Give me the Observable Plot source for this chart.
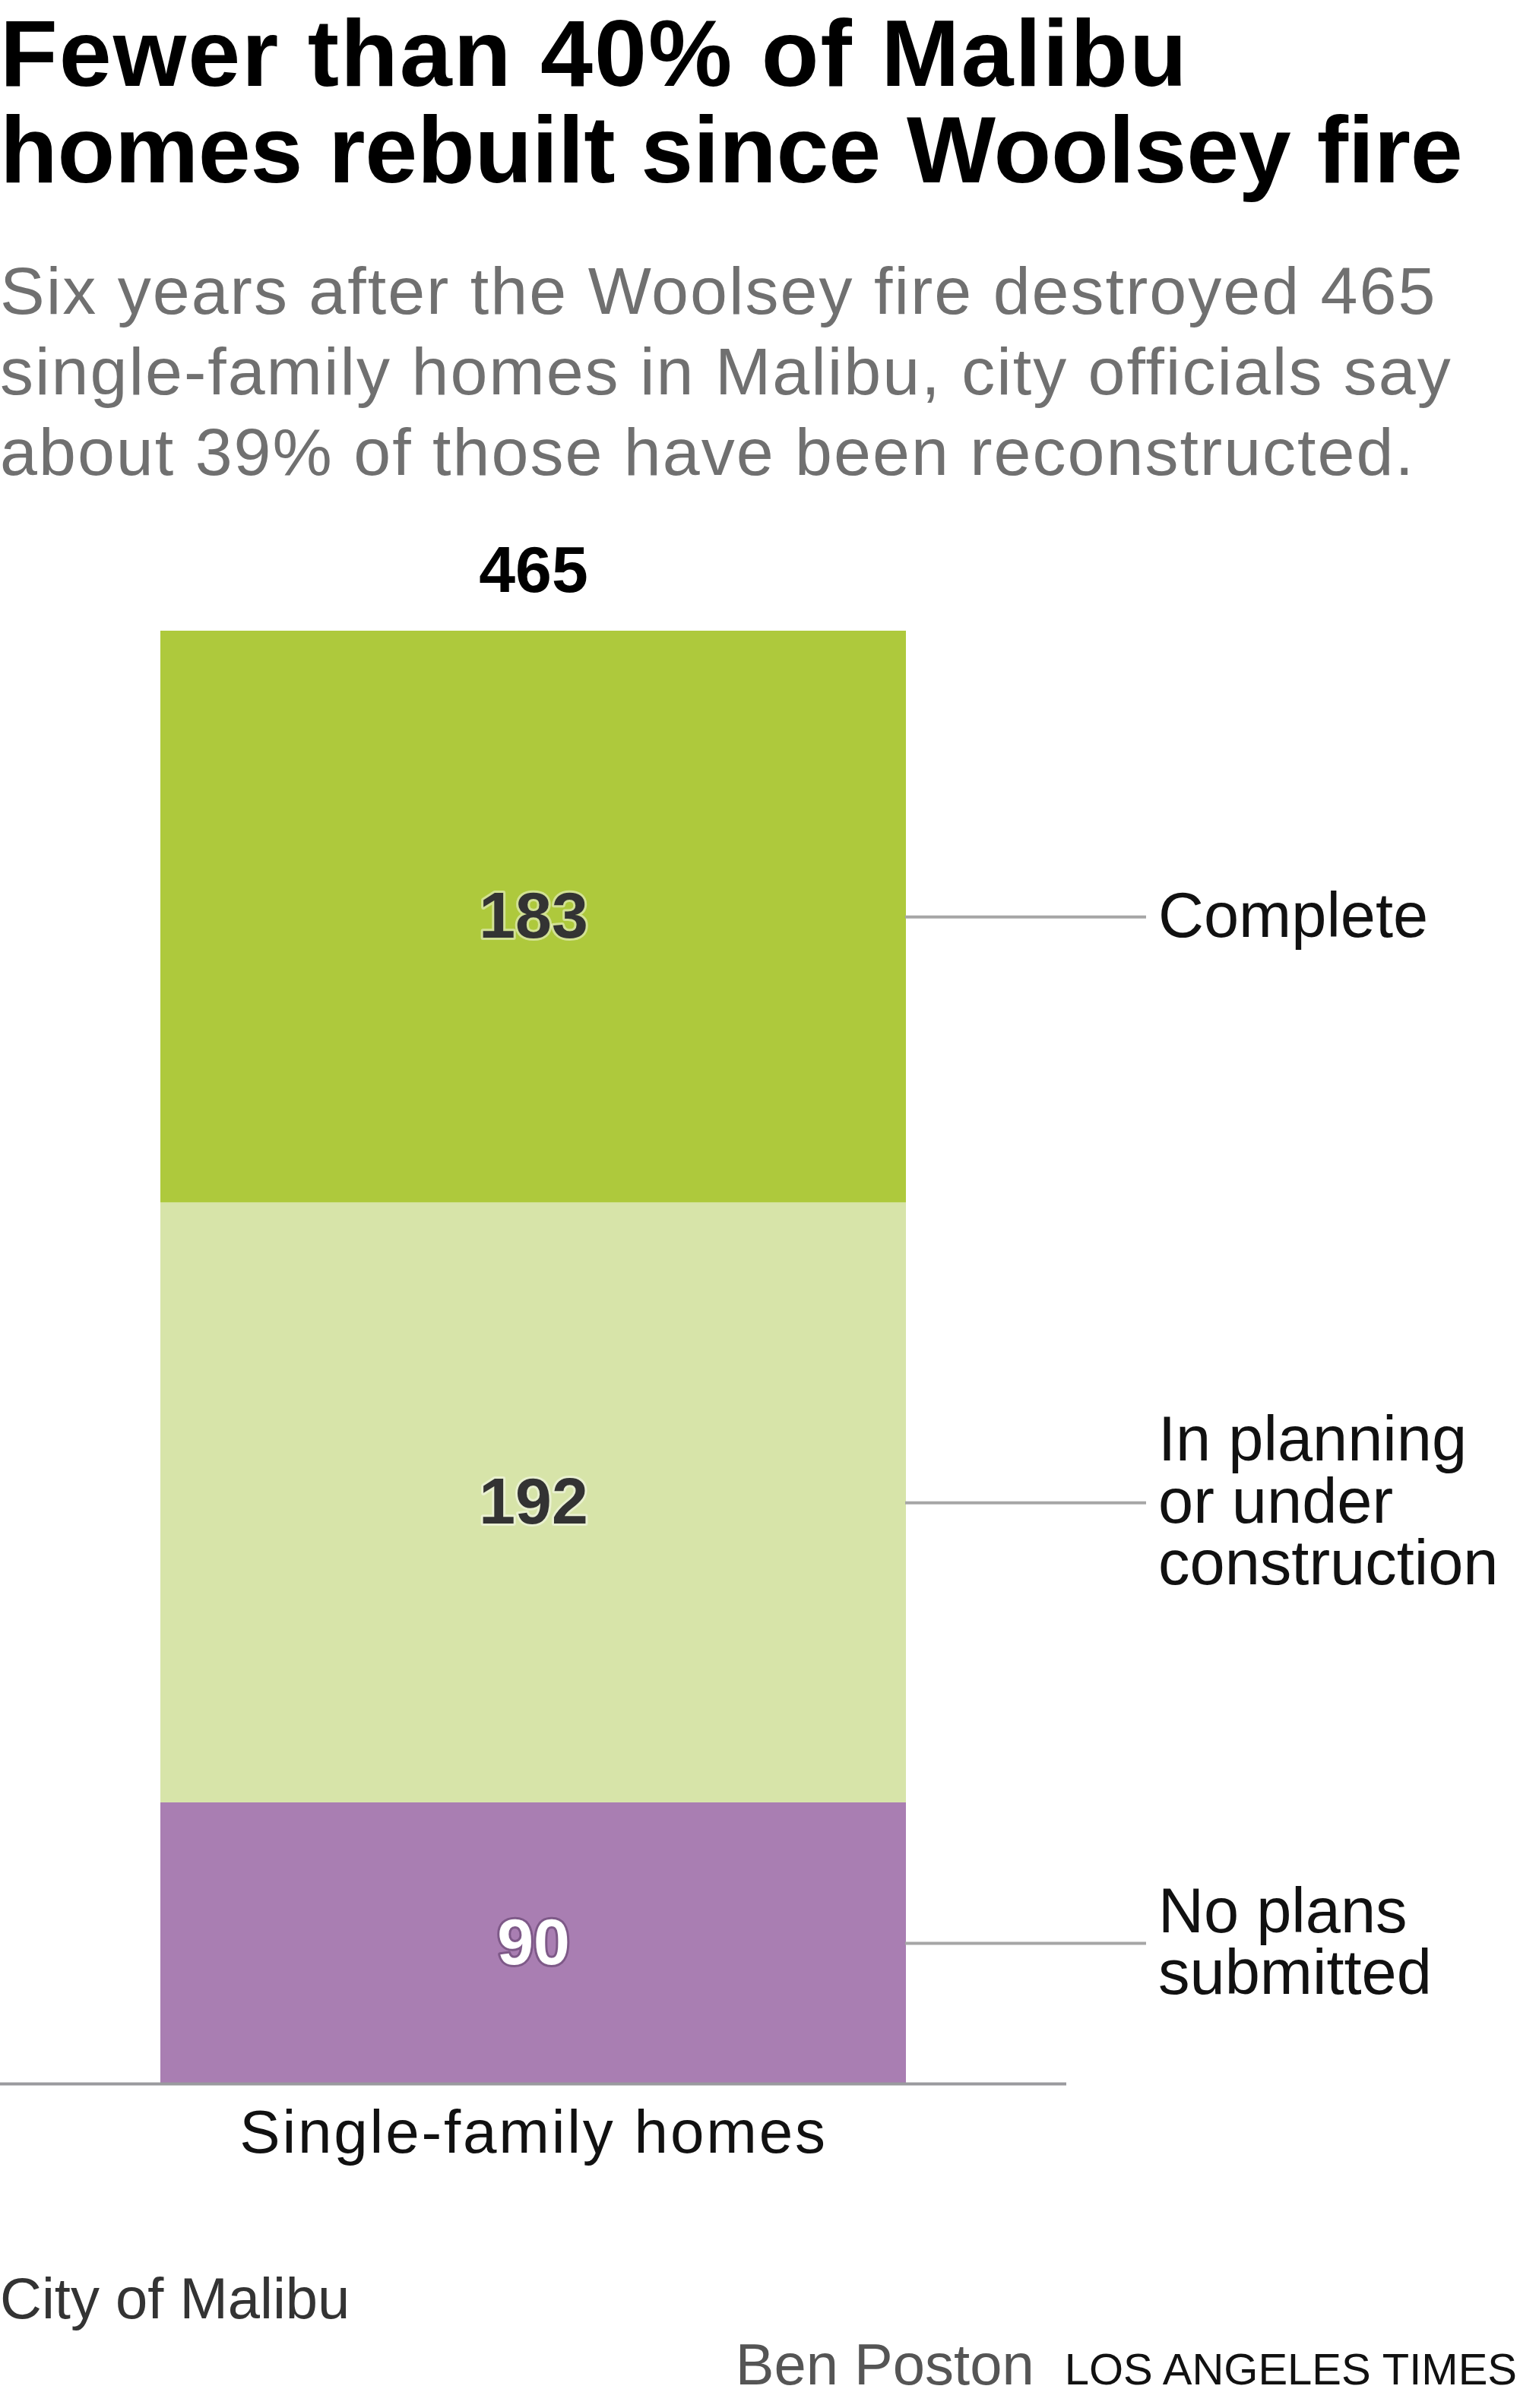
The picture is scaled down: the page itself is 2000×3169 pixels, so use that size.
<!DOCTYPE html>
<html>
<head>
<meta charset="utf-8">
<script src="https://cdn.jsdelivr.net/npm/d3@7"></script>
<script src="https://cdn.jsdelivr.net/npm/@observablehq/plot@0.6"></script>
<style>
  html, body { margin: 0; padding: 0; background: #fff; }
  #wrap { position: relative; width: 2000px; height: 3169px; overflow: hidden; }
  .sans { font-family: "Liberation Sans", Arial, sans-serif; }
  .tline { position: absolute; left: 0; width: 2000px; font-weight: bold; font-size: 124px; line-height: 140px; color: #000; white-space: nowrap; }
  #t1 { top: 0px; letter-spacing: 2px; }
  #t2 { top: 127px; letter-spacing: -0.3px; }
  #subtitle { position: absolute; left: 0; top: 330px; width: 2000px; font-size: 88px; line-height: 106px; color: #707070; letter-spacing: 2px; white-space: nowrap; }
  #chart { position: absolute; left: 0; top: 680px; }
  #source { position: absolute; left: 0; top: 2985px; font-size: 76px; line-height: 80px; color: #333; }
  #credit { position: absolute; right: 4px; top: 3072px; font-size: 76px; line-height: 80px; color: #555; white-space: nowrap; }
  #credit .lat { font-size: 58px; color: #111; margin-left: 40px; }
  #chart g[aria-label="x-axis tick label"] { letter-spacing: 2.8px; }
  #chart g[aria-label="status-label"] { letter-spacing: 2px; }
</style>
</head>
<body>
<div id="wrap" class="sans">
  <div id="t1" class="tline">Fewer than 40% of Malibu</div>
  <div id="t2" class="tline">homes rebuilt since Woolsey fire</div>
  <div id="subtitle">Six years after the Woolsey fire destroyed 465<br>single-family homes in Malibu, city officials say<br>about 39% of those have been reconstructed.</div>
  <div id="chart"></div>
  <div id="source">City of Malibu</div>
  <div id="credit">Ben Poston<span class="lat">LOS ANGELES TIMES</span></div>
</div>
<script>
// ---- data ----
const categories = ["Single-family homes"];
const statuses = ["No plans submitted", "In planning or under construction", "Complete"];
const counts = [90, 192, 183];
const statusLabels = ["No plans\nsubmitted", "In planning\nor under\nconstruction", "Complete"];
const statusColors = ["#a97eb2", "#d7e4a9", "#aec93c"];
const valueTextColors = ["#ffffff", "#333333", "#333333"];
const valueHaloColors = ["#4a2c55", "#ffffff", "#ffffff"];

// ---- derived table ----
let acc = 0;
const rows = statuses.map((s, i) => {
  const r = { category: categories[0], status: s, count: counts[i], label: statusLabels[i],
              y1: acc, y2: acc + counts[i], tfill: valueTextColors[i], halo: valueHaloColors[i] };
  acc += counts[i];
  r.mid = (r.y1 + r.y2) / 2;
  return r;
});
const total = acc;
const totals = [{ category: categories[0], total }];

const chart = Plot.plot({
  width: 2000,
  height: 2200,
  marginLeft: 0,
  marginRight: 597,
  marginTop: 150,
  marginBottom: 138,
  style: { fontFamily: '"Liberation Sans", Arial, sans-serif', background: "transparent", color: "#111" },
  x: { domain: categories, padding: 0.177 },
  y: { domain: [0, total], axis: null },
  color: { domain: statuses, range: statusColors },
  marks: [
    Plot.barY(rows, { x: "category", y1: "y1", y2: "y2", fill: "status" }),
    Plot.ruleY([0], { stroke: "#9a9a9e", strokeWidth: 4 }),
    Plot.tickY(rows, { x: "category", y: "mid", stroke: "#a6a6a6", strokeWidth: 4, insetLeft: 980, insetRight: -316 }),
    Plot.text(rows, { x: "category", y: "mid", text: d => String(d.count), fill: d => d.tfill,
      stroke: d => d.halo, strokeWidth: 6, strokeOpacity: 0.45, fontWeight: "bold", fontSize: 86 }),
    Plot.text(rows, { x: "category", y: "mid", text: "label", textAnchor: "start", dx: 822,
      fontSize: 83, lineHeight: 0.98, fill: "#111", ariaLabel: "status-label" }),
    Plot.text(totals, { x: "category", y: "total", text: d => String(d.total), dy: -79,
      fontWeight: "bold", fontSize: 86, fill: "#000" }),
    Plot.axisX({ tickSize: 0, tickPadding: 34, fontSize: 80, label: null, fill: "#111" })
  ]
});
document.getElementById("chart").appendChild(chart);
</script>
</body>
</html>
